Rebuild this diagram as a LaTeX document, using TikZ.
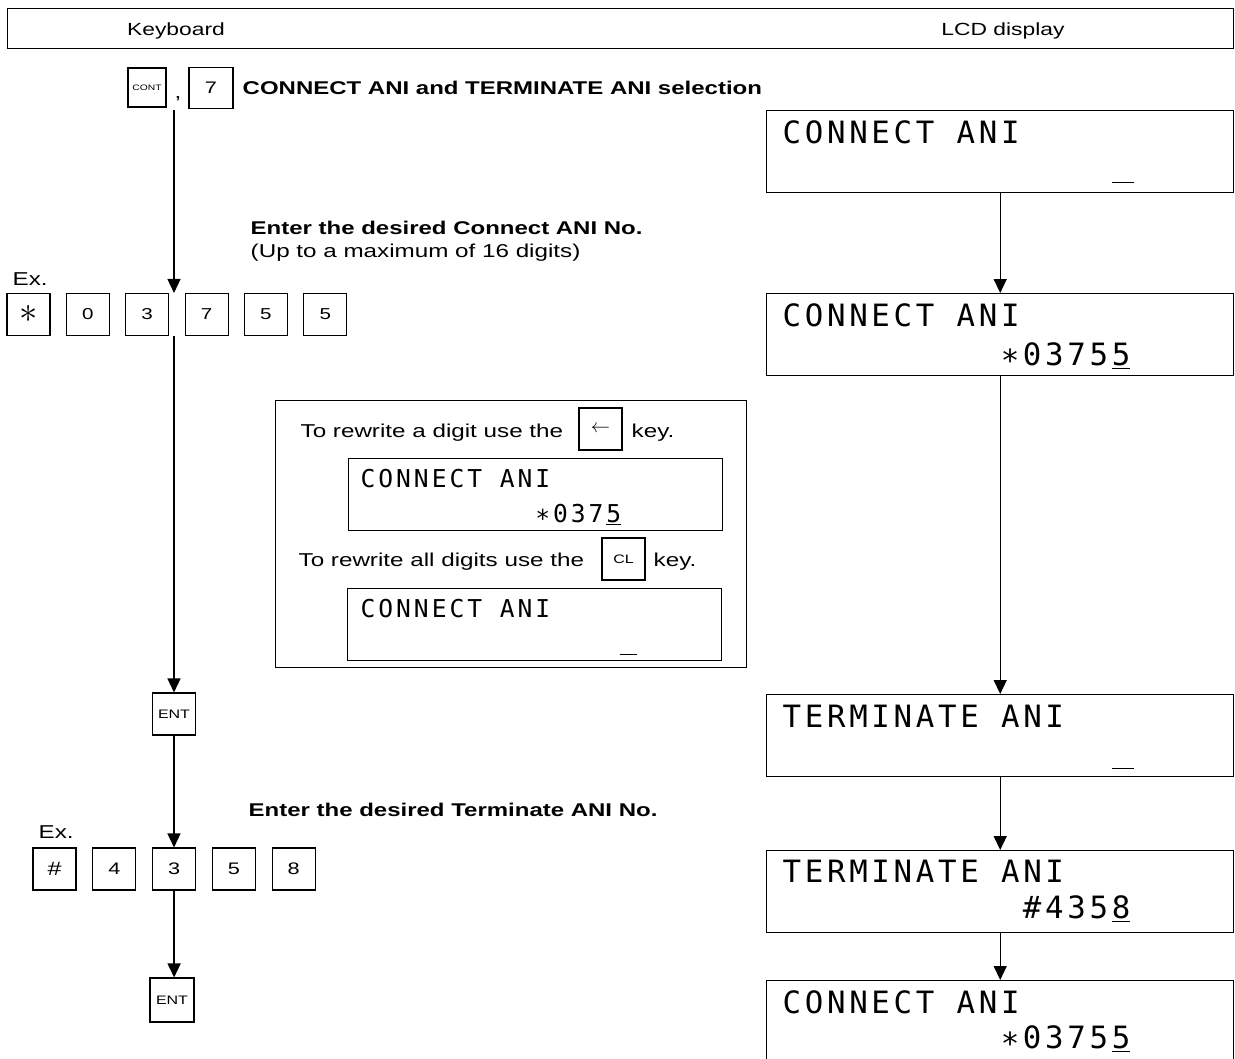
\documentclass[tikz,border=0pt]{standalone}
\usepackage{fontspec}
\setmainfont[FakeStretch=1.3]{Liberation Sans}
\newfontfamily\lcdfont[LetterSpace=12]{DejaVu Sans Mono}
\usetikzlibrary{arrows.meta, positioning, calc}

\begin{document}
\begin{tikzpicture}[
  x=0.2mm, y=-0.2mm,
  line width=0.8pt,
  every node/.style={font=\fontsize{10.6}{12}\selectfont},
  key/.style={draw, line width=0.6pt, minimum width=8.6mm, minimum height=8.4mm,
              inner sep=0pt, font=\fontsize{9}{10}\selectfont},
  lcd/.style={draw, minimum width=93.4mm, minimum height=16.4mm, anchor=north west, inner sep=0pt},
  minilcd/.style={draw, line width=0.6pt, minimum width=74.8mm, minimum height=14.4mm,
                  anchor=north west, inner sep=0pt},
  lcdtext/.style={font=\lcdfont\fontsize{17.5}{18}\selectfont, inner sep=0pt},
  minitext/.style={font=\lcdfont\fontsize{14}{15}\selectfont, inner sep=0pt},
  hint/.style={anchor=base west, inner sep=0pt, font=\fontsize{10.5}{12}\selectfont\bfseries},
  arr/.style={-{Triangle[length=2.8mm, width=2.6mm]}, line width=0.8pt}
]
  \clip (0,0) rectangle (1235,1059);

  % header
  \node[draw, minimum width=245.2mm, minimum height=8mm, anchor=north west, inner sep=0pt] (head) at (7,8) {};
  \node[anchor=base, font=\fontsize{10}{12}\selectfont] (kbd) at (176,35) {Keyboard};
  \node[anchor=base, font=\fontsize{10}{12}\selectfont] (disp) at (1003,35) {LCD display};

  % keyboard side
  \node[key, minimum width=7.6mm, minimum height=7.8mm, font=\fontsize{4.5}{5}\selectfont] (kcont) at (147,87.5) {CONT};
  \node[anchor=base, inner sep=0pt] (comma) at (178,98) {,};
  \node[key, minimum width=8.8mm, minimum height=8.2mm, font=\fontsize{9.5}{10}\selectfont] (kseven) at (211,88) {7};
  \node[hint] (title) at (242,94) {CONNECT ANI and TERMINATE ANI selection};
  \coordinate (kbtop) at (174,110);

  \node[hint] (hintA) at (250,234) {Enter the desired Connect ANI No.};
  \node[anchor=base west, inner sep=0pt] (hintB) at (250,257) {(Up to a maximum of 16 digits)};

  \node[anchor=base west, inner sep=0pt] (exA) at (12,285) {Ex.};
  \node[key, font=\fontsize{22}{22}\selectfont] (kA1) at (28.5,314.5) {$\ast$};
  \node[key, right=3.06mm of kA1] (kA2) {0};
  \node[key, right=3.06mm of kA2] (kA3) {3};
  \node[key, right=3.06mm of kA3] (kA4) {7};
  \node[key, right=3.06mm of kA4] (kA5) {5};
  \node[key, right=3.06mm of kA5] (kA6) {5};

  \node[key, font=\fontsize{7}{8}\selectfont] (entA) at (174,714) {ENT};

  \node[hint] (hintC) at (248,816) {Enter the desired Terminate ANI No.};
  \node[anchor=base west, inner sep=0pt] (exB) at (38,838) {Ex.};
  \node[key, font=\fontsize{11}{11}\selectfont] (kB1) at (54.5,869) {\#};
  \node[key, right=3.15mm of kB1, font=\fontsize{9.5}{10}\selectfont] (kB2) {4};
  \node[key, right=3.15mm of kB2, font=\fontsize{9.5}{10}\selectfont] (kB3) {3};
  \node[key, right=3.15mm of kB3, font=\fontsize{9.5}{10}\selectfont] (kB4) {5};
  \node[key, right=3.15mm of kB4, font=\fontsize{9.5}{10}\selectfont] (kB5) {8};

  \node[key, minimum width=8.8mm, minimum height=8.8mm, font=\fontsize{7}{8}\selectfont] (entB) at (172,1000) {ENT};

  \draw[arr] (kbtop) -- (kbtop |- kA3.north);
  \draw[arr] (kbtop |- kA3.south) -- (kbtop |- entA.north);
  \draw[arr] (entA.south) -- (entA.south |- kB3.north);
  \draw[arr] (kB3.south) -- (kB3.south |- entB.north);

  % rewrite box
  \node[draw, minimum width=94.2mm, minimum height=53.4mm, anchor=north west, inner sep=0pt] (tipbox) at (275,400) {};
  \node[anchor=base west, inner sep=0pt] (tipA) at (300,437) {To rewrite a digit use the};
  \node[key, font=\fontsize{11}{11}\selectfont] (kback) at (600.5,429) {$\leftarrow$};
  \node[anchor=base west, inner sep=0pt] (tipAk) at (631,437) {key.};
  \node[minilcd] (miniA) at (348,458) {};
  \node[minitext, anchor=base west] (miniA1) at ($(miniA.north west)+(12,29)$) {CONNECT ANI};
  \node[minitext, anchor=base east] (miniA2) at ($(miniA.north west)+(274,64)$) {∗037\kern0.12em\underline{5}};
  \node[anchor=base west, inner sep=0pt] (tipB) at (298,566) {To rewrite all digits use the};
  \node[key, font=\fontsize{7}{8}\selectfont] (kclear) at (623.5,559) {CL};
  \node[anchor=base west, inner sep=0pt] (tipBk) at (653,566) {key.};
  \node[minilcd] (miniB) at (347,588) {};
  \node[minitext, anchor=base west] (miniB1) at ($(miniB.north west)+(13,29)$) {CONNECT ANI};
  \node[minitext, anchor=base east] (miniB2) at ($(miniB.north west)+(291,64)$) {\underline{\hspace{0.72em}}};

  % display side
  \node[lcd] (lcdA) at (766,110) {};
  \node[lcdtext, anchor=base west] (lcdA1) at ($(lcdA.north west)+(16,33)$) {CONNECT ANI};
  \node[lcdtext, anchor=base east] (lcdA2) at ($(lcdA.north west)+(369,70)$) {\underline{\hspace{0.72em}}};

  \node[lcd] (lcdB) at (766,293) {};
  \node[lcdtext, anchor=base west] (lcdB1) at ($(lcdB.north west)+(16,33)$) {CONNECT ANI};
  \node[lcdtext, anchor=base east] (lcdB2) at ($(lcdB.north west)+(365,72)$) {∗0375\kern0.12em\underline{5}};

  \node[lcd] (lcdC) at (766,694) {};
  \node[lcdtext, anchor=base west] (lcdC1) at ($(lcdC.north west)+(16,33)$) {TERMINATE ANI};
  \node[lcdtext, anchor=base east] (lcdC2) at ($(lcdC.north west)+(369,72)$) {\underline{\hspace{0.72em}}};

  \node[lcd] (lcdD) at (766,850) {};
  \node[lcdtext, anchor=base west] (lcdD1) at ($(lcdD.north west)+(16,32)$) {TERMINATE ANI};
  \node[lcdtext, anchor=base east] (lcdD2) at ($(lcdD.north west)+(365,68)$) {\#435\kern0.12em\underline{8}};

  \node[lcd, minimum height=24mm] (lcdE) at (766,980) {};
  \node[lcdtext, anchor=base west] (lcdE1) at ($(lcdE.north west)+(16,33)$) {CONNECT ANI};
  \node[lcdtext, anchor=base east] (lcdE2) at ($(lcdE.north west)+(365,68)$) {∗0375\kern0.12em\underline{5}};

  \draw[arr] (lcdA) -- (lcdB);
  \draw[arr] (lcdB) -- (lcdC);
  \draw[arr] (lcdC) -- (lcdD);
  \draw[arr] (lcdD) -- (lcdE);
\end{tikzpicture}
\end{document}
